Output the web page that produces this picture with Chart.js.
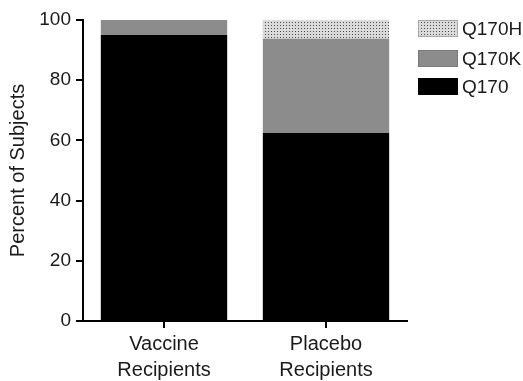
<!DOCTYPE html>
<html>
<head>
<meta charset="utf-8">
<script src="https://cdn.jsdelivr.net/npm/chart.js@4"></script>
<style>
html,body{margin:0;padding:0;background:#fff;}
#wrap{width:523px;height:381px;position:relative;}
</style>
</head>
<body>
<div id="wrap"><canvas id="c" width="523" height="381"></canvas></div>
<script>
// ---- data ----
const categories = [['Vaccine', 'Recipients'], ['Placebo', 'Recipients']];
const seriesNames = ['Q170', 'Q170K', 'Q170H'];
const q170 = [95, 62.5];
const q170k = [5, 31.25];
const q170h = [0, 6.25];
const yTicks = [0, 20, 40, 60, 80, 100];

// ---- styles ----
function makeDots() {
  const p = document.createElement('canvas');
  p.width = 3; p.height = 3;
  const g = p.getContext('2d');
  g.fillStyle = '#dadada';
  g.fillRect(0, 0, 3, 3);
  g.fillStyle = '#4e4e4e';
  g.fillRect(1, 1, 1, 1);
  return g.createPattern(p, 'repeat');
}
const ctx0 = document.getElementById('c').getContext('2d');
const dots = makeDots();
const FONT = 'Liberation Sans, Arial, sans-serif';
const TXT = '#1a1a1a';

const legendPlugin = {
  id: 'customLegend',
  afterDraw(chart) {
    const ctx = chart.ctx;
    const ds = chart.data.datasets.slice().reverse();
    const x0 = 418, bw = 40, bh = 17;
    const tops = [20, 50, 78];
    ctx.save();
    ds.forEach((d, i) => {
      const y = tops[i];
      ctx.fillStyle = d.backgroundColor;
      ctx.fillRect(x0, y, bw, bh);
      if (d.legendBorder) {
        ctx.strokeStyle = d.legendBorder;
        ctx.lineWidth = 1;
        ctx.strokeRect(x0 + 0.5, y + 0.5, bw - 1, bh - 1);
      }
      ctx.fillStyle = TXT;
      ctx.font = '19px ' + FONT;
      ctx.textBaseline = 'middle';
      ctx.textAlign = 'left';
      ctx.fillText(d.label, x0 + 44, y + bh / 2 + 1);
    });
    ctx.restore();
  }
};

new Chart(ctx0, {
  type: 'bar',
  data: {
    labels: categories,
    datasets: [
      { label: seriesNames[0], data: q170, backgroundColor: '#000000', legendBorder: null },
      { label: seriesNames[1], data: q170k, backgroundColor: '#8c8c8c', legendBorder: '#7a7a7a' },
      { label: seriesNames[2], data: q170h, backgroundColor: dots, legendBorder: '#a8a8a8' }
    ]
  },
  options: {
    responsive: false,
    animation: false,
    events: [],
    layout: { padding: { left: 0, right: 116, top: 20, bottom: 0 } },
    datasets: { bar: { categoryPercentage: 1, barPercentage: 0.78, borderWidth: 0 } },
    plugins: { legend: { display: false }, tooltip: { enabled: false } },
    scales: {
      x: {
        stacked: true,
        afterFit(s) { s.height = 60; },
        grid: { offset: false, drawOnChartArea: false, drawTicks: true, tickLength: 7, color: '#000', lineWidth: 2 },
        border: { display: true, color: '#000', width: 2 },
        ticks: { color: TXT, font: { family: FONT, size: 20, lineHeight: 1.3 }, padding: 3, maxRotation: 0 }
      },
      y: {
        stacked: true,
        min: 0, max: 100,
        afterFit(s) { s.width = 83; },
        afterBuildTicks(s) { s.ticks = yTicks.map(v => ({ value: v })); },
        grid: { drawOnChartArea: false, drawTicks: true, tickLength: 7, color: '#000', lineWidth: 2 },
        border: { display: true, color: '#000', width: 2 },
        ticks: { color: TXT, font: { family: FONT, size: 19 }, padding: 5 },
        title: { display: true, text: 'Percent of Subjects', color: TXT, font: { family: FONT, size: 20 }, padding: { top: 6, bottom: 0 } }
      }
    }
  },
  plugins: [legendPlugin]
});
</script>
</body>
</html>
